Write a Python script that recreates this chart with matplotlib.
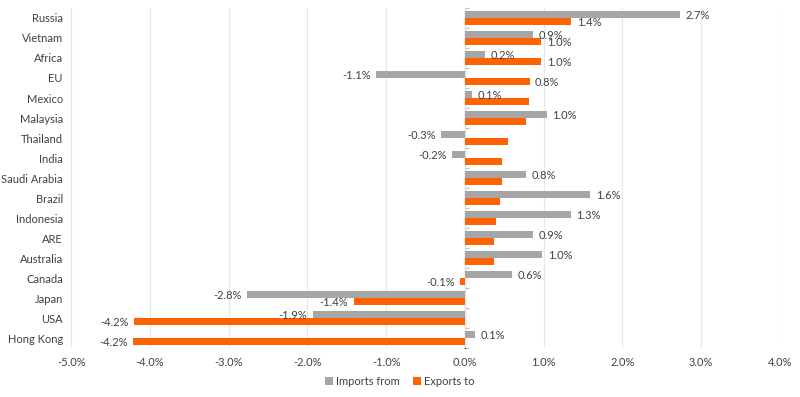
import numpy as np
import matplotlib.pyplot as plt
from matplotlib.ticker import FuncFormatter

# data
countries = ["Russia", "Vietnam", "Africa", "EU", "Mexico", "Malaysia", "Thailand",
             "India", "Saudi Arabia", "Brazil", "Indonesia", "ARE", "Australia",
             "Canada", "Japan", "USA", "Hong Kong"]
imports_from = [2.73, 0.86, 0.25, -1.13, 0.09, 1.04, -0.30, -0.16, 0.77, 1.59, 1.34,
                0.86, 0.98, 0.60, -2.77, -1.93, 0.13]
exports_to = [1.35, 0.97, 0.97, 0.82, 0.81, 0.77, 0.54, 0.47, 0.47, 0.45, 0.39,
              0.37, 0.37, -0.06, -1.41, -4.20, -4.21]
# the source chart only labels some of the export bars
exports_labelled = ["Russia", "Vietnam", "Africa", "EU", "Canada", "Japan", "USA", "Hong Kong"]

gray = "#A6A6A6"
orange = "#FF6200"
txt = "#404040"

plt.rcParams['font.family'] = ['Lato', 'DejaVu Sans']

fig = plt.figure(figsize=(8, 3.97), dpi=100)
ax = fig.add_axes([0.089, 0.123, 0.886, 0.857])

y = np.arange(len(countries))
h = 0.36
b1 = ax.barh(y - h / 2, imports_from, height=h, color=gray, label="Imports from")
b2 = ax.barh(y + h / 2, exports_to, height=h, color=orange, label="Exports to")

def label(bar, v):
    yc = bar.get_y() + bar.get_height() / 2
    ax.annotate(f"{v:.1f}%", (v, yc), xytext=(4 if v >= 0 else -4, -0.5),
                textcoords="offset points", va="center",
                ha="left" if v >= 0 else "right", fontsize=8, color=txt)

for bar, v in zip(b1, imports_from):
    label(bar, v)
for bar, v, c in zip(b2, exports_to, countries):
    if c in exports_labelled:
        label(bar, v)

ax.set_xlim(-5, 4)
ax.set_ylim(len(countries) - 0.5, -0.5)
ax.set_xticks(np.arange(-5, 5, 1))
ax.xaxis.set_major_formatter(FuncFormatter(lambda v, p: f"{v:.1f}%"))
ax.set_yticks(y)
ax.set_yticklabels(countries)
ax.tick_params(axis="both", length=0, labelsize=8, labelcolor=txt)
ax.tick_params(axis="y", pad=6)
ax.tick_params(axis="x", pad=6)
ax.grid(axis="x", color="#E6E6E6", linewidth=0.8)
ax.set_axisbelow(True)
for s in ax.spines.values():
    s.set_visible(False)

# zero axis line with category-boundary ticks
sec = ax.secondary_yaxis(5 / 9)
sec.set_yticks(np.arange(-0.5, len(countries), 1))
sec.set_yticklabels([])
sec.tick_params(axis="y", length=3, color="#BFBFBF", width=0.8)
sec.spines["left"].set_color("#BFBFBF")
sec.spines["left"].set_linewidth(0.8)

fig.legend(handles=[b1, b2], loc="lower center", bbox_to_anchor=(0.5, 0.0),
           ncol=2, frameon=False, fontsize=8, handlelength=0.7, handleheight=0.7,
           handletextpad=0.3, columnspacing=1.2, labelcolor=txt)

fig.savefig("out.png", dpi=100)
